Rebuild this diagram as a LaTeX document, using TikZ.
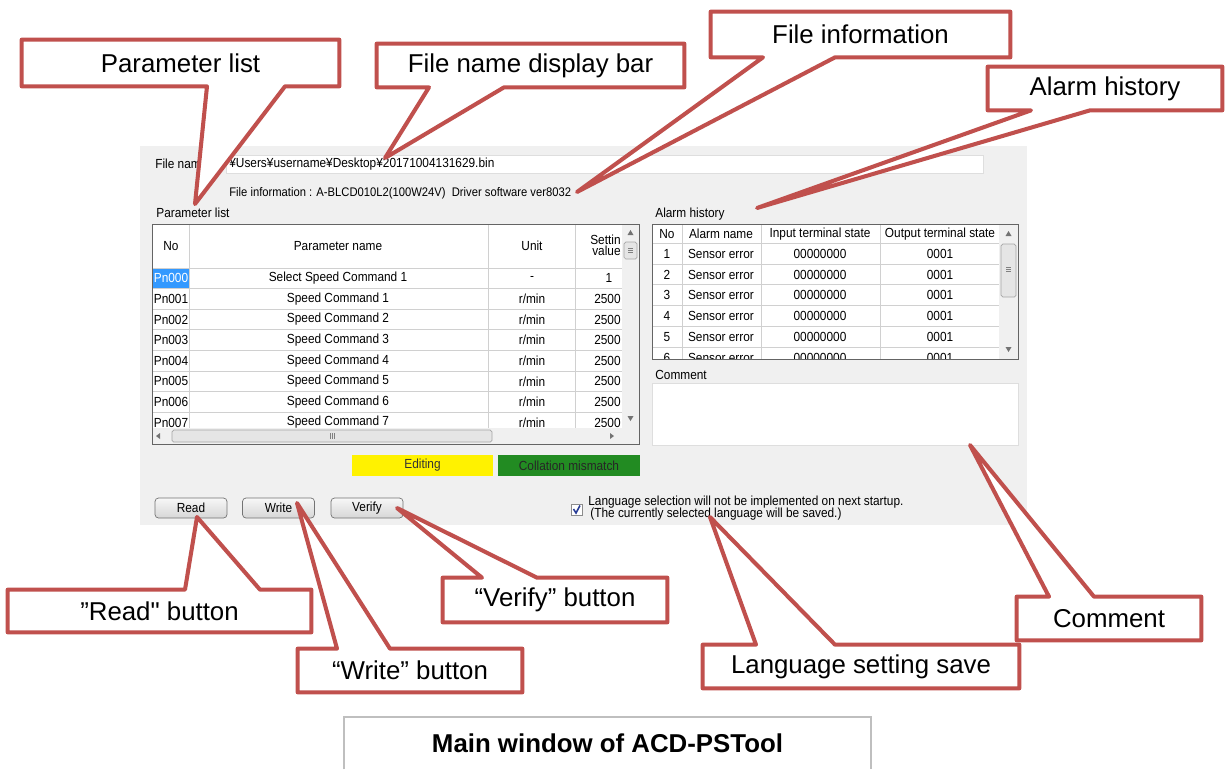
\documentclass[tikz,border=0pt]{standalone}
\usepackage{fontspec}
\setmainfont{Liberation Sans}
\newfontfamily\callfont{Liberation Sans}
\newfontfamily\uifont[FakeStretch=0.9]{Liberation Sans}
\usetikzlibrary{calc}
\pgfdeclarelayer{front}
\pgfsetlayers{main,front}

\definecolor{callred}{RGB}{192,80,77}
\definecolor{wingray}{RGB}{240,240,240}
\definecolor{gridgray}{RGB}{208,208,208}
\definecolor{fieldgray}{RGB}{222,222,222}
\definecolor{framegray}{RGB}{100,100,100}
\definecolor{selblue}{RGB}{51,153,255}
\definecolor{okgreen}{RGB}{34,139,34}
\definecolor{capgray}{RGB}{191,191,191}
\definecolor{checkblue}{RGB}{40,60,150}

\tikzset{
  callout/.style={draw=callred, line width=2.3pt, fill=white, line join=round},
  calltext/.style={font=\callfont\fontsize{14.7}{17}\selectfont, inner sep=0pt},
  ui/.style={font=\uifont\fontsize{7.5}{9}\selectfont, inner sep=0pt},
  cellline/.style={draw=gridgray, line width=0.5pt},
  thumb/.style={draw=black!35, fill=black!10, rounded corners=1pt},
  btn/.style={ui, draw=black!55, rounded corners=2pt, top color=white!97!black,
    bottom color=white!84!black, minimum width=1.44cm, minimum height=0.4cm},
}

% callout box with its tail below / above: box, tip, left foot, right foot
\newcommand{\tailbelow}[4]{%
  \draw[callout] (#1.north west) -- (#1.north east) -- (#1.south east)
    -- (#4,0 |- #1.south) -- (#2) -- (#3,0 |- #1.south) -- (#1.south west) -- cycle;}
\newcommand{\tailabove}[4]{%
  \draw[callout] (#1.south west) -- (#1.north west) -- (#3,0 |- #1.north)
    -- (#2) -- (#4,0 |- #1.north) -- (#1.north east) -- (#1.south east) -- cycle;}

\begin{document}
\begin{tikzpicture}[x=0.02cm, y=-0.02cm]
\useasboundingbox (0,0) rectangle (1225,769);

% window of the tool
\fill[wingray] (140,146) rectangle (1027,525);

% file name and file information
\node[ui, anchor=west] (fnlabel) at (155,164) {File name};
\draw[draw=fieldgray, fill=white] (226,155) rectangle (983,173);
\node[ui, anchor=west] (fnpath) at (229,164) {¥Users¥username¥Desktop¥20171004131629.bin};
\node[ui, anchor=west, font=\uifont\fontsize{7.1}{9}\selectfont] (fninfo) at (229,193) {File information : A-BLCD010L2(100W24V)\ \ Driver software ver8032};

% parameter list
\node[ui, anchor=west] (plistlbl) at (156,213) {Parameter list};
\fill[white] (152,224) rectangle (639,444);
\fill[selblue] (153,268) rectangle (189,288.6);
\foreach \i in {0,...,7}
  \draw[cellline] (152,268+20.6*\i) -- (622,268+20.6*\i);
\foreach \x in {189,488,575}
  \draw[cellline] (\x,224) -- (\x,428);
\node[ui] (hno) at (171,246) {No};
\node[ui] (hpname) at (338,246) {Parameter name};
\node[ui] (hunit) at (532,246) {Unit};
\node[ui, anchor=east] (hset) at (621,240) {Settin};
\node[ui, anchor=east] (hval) at (621,251) {value};
\node[ui, white] (pn0) at (171,278.3) {Pn000};
\node[ui] (pname0) at (338,278.3) {Select Speed Command 1};
\node[ui] (punit0) at (532,278.3) {-};
\node[ui] (pval0) at (609,278.3) {1};
\foreach \i in {1,...,7} {
  \node[ui] (pn\i) at (171,278.3+20.6*\i) {Pn00\i};
  \node[ui] (pname\i) at (338,278.3+20.6*\i) {Speed Command \i};
  \node[ui] (punit\i) at (532,278.3+20.6*\i) {r/min};
  \node[ui, anchor=east] (pval\i) at (621,278.3+20.6*\i) {2500};
}
% scroll bars
\fill[wingray] (152,428) rectangle (622,444);
\fill[wingray] (622,224) rectangle (639,444);
\draw[thumb] (172,430) rectangle (492,442);
\foreach \d in {-2,0,2}
  \draw[black!50, line width=0.4pt] (332+\d,433) -- (332+\d,439);
\fill[black!55] (156,436) -- (160,433) -- (160,439) -- cycle;
\fill[black!55] (614,436) -- (610,433) -- (610,439) -- cycle;
\fill[black!55] (630.5,230) -- (627.5,235) -- (633.5,235) -- cycle;
\draw[thumb] (624,242) rectangle (637,259);
\foreach \d in {-2,0,2}
  \draw[black!50, line width=0.4pt] (628,250.5+\d) -- (633,250.5+\d);
\fill[black!55] (630.5,421) -- (627.5,416) -- (633.5,416) -- cycle;
\draw[framegray] (152,224) rectangle (639,444);

% alarm history
\node[ui, anchor=west] (ahistlbl) at (655,214) {Alarm history};
\fill[white] (652,224) rectangle (1018,359);
\begin{scope}
  \clip (652,224) rectangle (999,359);
  \foreach \i in {0,...,5}
    \draw[cellline] (652,243.5+20.7*\i) -- (999,243.5+20.7*\i);
  \foreach \i in {1,...,6} {
    \node[ui] (ano\i) at (667,233.3+20.7*\i) {\i};
    \node[ui] (aname\i) at (721,233.3+20.7*\i) {Sensor error};
    \node[ui] (ain\i) at (820,233.3+20.7*\i) {00000000};
    \node[ui] (aout\i) at (940,233.3+20.7*\i) {0001};
  }
\end{scope}
\foreach \x in {682,761,880,999}
  \draw[cellline] (\x,224) -- (\x,359);
\node[ui] (hano) at (667,234) {No};
\node[ui] (haname) at (721,234) {Alarm name};
\node[ui] (hain) at (820,234) {Input terminal state};
\node[ui] (haout) at (940,234) {Output terminal state};
\fill[wingray] (999,225) rectangle (1018,359);
\fill[black!55] (1008.5,231) -- (1005.5,236) -- (1011.5,236) -- cycle;
\draw[thumb] (1001,244) rectangle (1016,297);
\foreach \d in {-2,0,2}
  \draw[black!50, line width=0.4pt] (1006,269+\d) -- (1011,269+\d);
\fill[black!55] (1008.5,352) -- (1005.5,347) -- (1011.5,347) -- cycle;
\draw[framegray] (652,224) rectangle (1018,359);

% comment
\node[ui, anchor=west] (commlbl) at (655,375) {Comment};
\draw[draw=fieldgray, fill=white] (652,383) rectangle (1018,445);

% status, buttons, language option
\node[ui, fill=yellow, text=black!80, minimum width=2.82cm, minimum height=0.42cm] (editing) at (422.5,465.5) {Editing};
\node[ui, fill=okgreen, text=black!85, minimum width=2.84cm, minimum height=0.42cm] (mismatch) at (569,465.5) {Collation mismatch};
\node[btn] (readbtn) at (191,508) {Read};
\node[btn] (writebtn) at (278.5,508) {Write};
\node[btn] (verifybtn) at (367,508) {Verify};
\draw[black!45, fill=white] (571,504) rectangle (582,515);
\draw[checkblue, line width=0.9pt] (573.5,509) -- (576,513) -- (580,505.5);
\node[ui, anchor=west] (langl1) at (588,502.5) {Language selection will not be implemented on next startup.};
\node[ui, anchor=west] (langl2) at (590,514) {(The currently selected language will be saved.)};

% tips of the callouts
\coordinate (tplist) at (195,204);
\coordinate (tfname) at (385,158);
\coordinate (tfinfo) at (577,192);
\coordinate (tahist) at (757,208);
\coordinate (tread) at (197,517);
\coordinate (twrite) at (297,503);
\coordinate (tverify) at (397,508);
\coordinate (tlang) at (710,517);
\coordinate (tcomm) at (970,445);

% callouts
\begin{pgfonlayer}{front}
\node[calltext, minimum width=6.34cm, minimum height=0.92cm] (plistcall) at (180.5,63) {Parameter list};
\node[calltext, minimum width=6.14cm, minimum height=0.86cm] (fnamecall) at (530.5,65.5) {File name display bar};
\node[calltext, minimum width=5.98cm, minimum height=0.9cm] (finfocall) at (860.5,34.5) {File information};
\node[calltext, minimum width=4.68cm, minimum height=0.86cm] (ahistcall) at (1105,88.5) {Alarm history};
\node[calltext, minimum width=6.06cm, minimum height=0.84cm] (readcall) at (159.5,611) {”Read" button};
\node[calltext, minimum width=4.48cm, minimum height=0.86cm] (writecall) at (410,670.5) {“Write” button};
\node[calltext, minimum width=4.48cm, minimum height=0.88cm] (verifycall) at (555,600) {“Verify” button};
\node[calltext, minimum width=6.32cm, minimum height=0.86cm] (langcall) at (861,666.5) {Language setting save};
\node[calltext, minimum width=3.68cm, minimum height=0.86cm] (commcall) at (1109,618.5) {Comment};
\end{pgfonlayer}
\tailbelow{plistcall}{tplist}{207}{285}
\tailbelow{fnamecall}{tfname}{429}{504}
\tailbelow{finfocall}{tfinfo}{763}{835}
\tailbelow{ahistcall}{tahist}{1031}{1090}
\tailabove{readcall}{tread}{185}{260}
\tailabove{writecall}{twrite}{337}{390}
\tailabove{verifycall}{tverify}{482}{537}
\tailabove{langcall}{tlang}{756}{835}
\tailabove{commcall}{tcomm}{1049}{1094}

% caption
\node[font=\bfseries\fontsize{14.7}{17}\selectfont, inner sep=0pt, minimum width=10.54cm, minimum height=1.04cm] (caption) at (607.5,743) {Main window of ACD-PSTool};
\draw[capgray, line width=1.2pt] (caption.south west) -- (caption.north west) -- (caption.north east) -- (caption.south east);
\end{tikzpicture}
\end{document}
